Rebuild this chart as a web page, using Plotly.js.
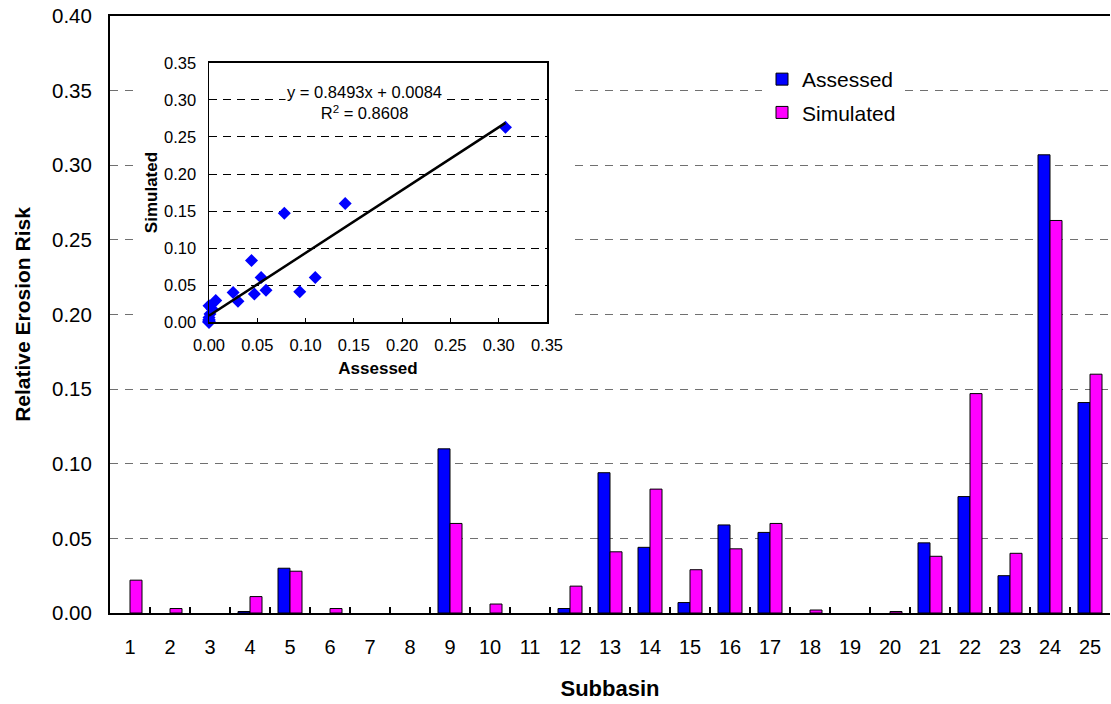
<!DOCTYPE html>
<html><head><meta charset="utf-8">
<script src="https://cdn.plot.ly/plotly-3.0.1.min.js"></script>
<style>html,body{margin:0;padding:0;background:#fff}#chart{width:1111px;height:704px}</style>
</head><body><div id="chart"></div>
<script>
// Subbasin categories
const subbasins = ['1','2','3','4','5','6','7','8','9','10','11','12','13','14','15','16','17','18','19','20','21','22','23','24','25'];
// Relative erosion risk per subbasin
const assessed  = [0, 0, 0, 0.001, 0.030, 0, 0, 0, 0.110, 0, 0, 0.003, 0.094, 0.044, 0.007, 0.059, 0.054, 0, 0, 0, 0.047, 0.078, 0.025, 0.307, 0.141];
const simulated = [0.022, 0.003, 0, 0.011, 0.028, 0.003, 0, 0, 0.060, 0.006, 0, 0.018, 0.041, 0.083, 0.029, 0.043, 0.060, 0.002, 0, 0.001, 0.038, 0.147, 0.040, 0.263, 0.160];
// Linear trendline reported on the inset
const trendSlope = 0.8493;
const trendIntercept = 0.0084;
const trendR2 = 0.8608;
const seriesNames = ['Assessed', 'Simulated'];

const FONT = '"Liberation Sans", Arial, Helvetica, sans-serif';
const trendX = [Math.min(...assessed), Math.max(...assessed)];
const trendY = trendX.map(v => trendSlope * v + trendIntercept);
// zero-valued bars are not drawn (no outline stub)
const barVals = arr => arr.map(v => v > 0 ? v : null);

const traces = [
  {type:'bar', name:seriesNames[0], x:subbasins, y:barVals(assessed), xaxis:'x', yaxis:'y', legendgroup:'a',
   marker:{color:'#0000FF', line:{color:'#000000', width:1}}},
  {type:'bar', name:seriesNames[1], x:subbasins, y:barVals(simulated), xaxis:'x', yaxis:'y', legendgroup:'s',
   marker:{color:'#FF00FF', line:{color:'#000000', width:1}}},
  {type:'scatter', mode:'markers', x:assessed, y:simulated, xaxis:'x2', yaxis:'y2', showlegend:false, cliponaxis:false,
   marker:{symbol:'diamond', size:10, color:'#0000FF'}},
  {type:'scatter', mode:'lines', x:trendX, y:trendY, xaxis:'x2', yaxis:'y2', showlegend:false, cliponaxis:false,
   line:{color:'#000000', width:2.5}}
];

const layout = {
  width:1111, height:704,
  margin:{l:110, r:1, t:16, b:91},
  paper_bgcolor:'#ffffff', plot_bgcolor:'#ffffff',
  font:{family:FONT, color:'#000000'},
  barmode:'group', bargap:0.4, bargroupgap:0,
  showlegend:true,
  legend:{x:0.652, y:0.928, xanchor:'left', yanchor:'top', bgcolor:'#ffffff', borderwidth:0,
          font:{size:21, family:FONT}, traceorder:'grouped', tracegroupgap:3},
  xaxis:{type:'category', domain:[0,1], anchor:'y', range:[-0.5,24.5],
         showline:true, linecolor:'#000', linewidth:2, mirror:true,
         ticks:'inside', ticklen:6, tickcolor:'#000', tickwidth:1.5, tickson:'boundaries',
         showgrid:false, tickfont:{size:20}, ticklabelstandoff:15,
         title:{text:'Subbasin', font:{size:22, weight:'bold'}, standoff:24}},
  yaxis:{domain:[0,1], anchor:'x', range:[0,0.4], dtick:0.05, tickformat:'.2f',
         showline:true, linecolor:'#000', linewidth:2, ticks:'', zeroline:false,
         showgrid:true, gridcolor:'#707070', gridwidth:1, griddash:'8px,7px',
         tickfont:{size:20.5}, ticklabelstandoff:12,
         title:{text:'Relative Erosion Risk', font:{size:21, weight:'bold'}, standoff:16}},
  xaxis2:{domain:[0.099,0.437], anchor:'y2', range:[0,0.35], dtick:0.05, tickformat:'.2f',
          showline:true, linecolor:'#000', linewidth:1.5, mirror:true,
          ticks:'inside', ticklen:4, tickcolor:'#000', showgrid:false, zeroline:false,
          tickfont:{size:16.5}, ticklabelstandoff:8,
          title:{text:'Assessed', font:{size:17, weight:'bold'}, standoff:9}},
  yaxis2:{domain:[0.4874,0.9213], anchor:'x2', range:[0,0.35], dtick:0.05, tickformat:'.2f',
          showline:true, linecolor:'#000', linewidth:1.5, mirror:true,
          ticks:'inside', ticklen:4, tickcolor:'#000', zeroline:false,
          showgrid:true, gridcolor:'#000000', gridwidth:1, griddash:'8px,6px',
          tickfont:{size:16.5}, ticklabelstandoff:8,
          title:{text:'Simulated', font:{size:17, weight:'bold'}, standoff:2}},
  shapes:[
    {type:'rect', xref:'x', yref:'y', x0:0.125, x1:11.075, y0:0.156, y1:0.391,
     fillcolor:'#ffffff', line:{width:0}, layer:'between'}
  ],
  annotations:[
    {xref:'x2', yref:'y2', x:0.1615, y:0.2966, showarrow:false, bgcolor:'#ffffff',
     text:'y = ' + trendSlope.toFixed(4) + 'x + ' + trendIntercept.toFixed(4) + '<br>R<sup>2</sup> = ' + trendR2.toFixed(4),
     font:{size:16.5, family:FONT}}
  ]
};

Plotly.newPlot('chart', traces, layout, {displayModeBar:false, staticPlot:true});
</script>
</body></html>
